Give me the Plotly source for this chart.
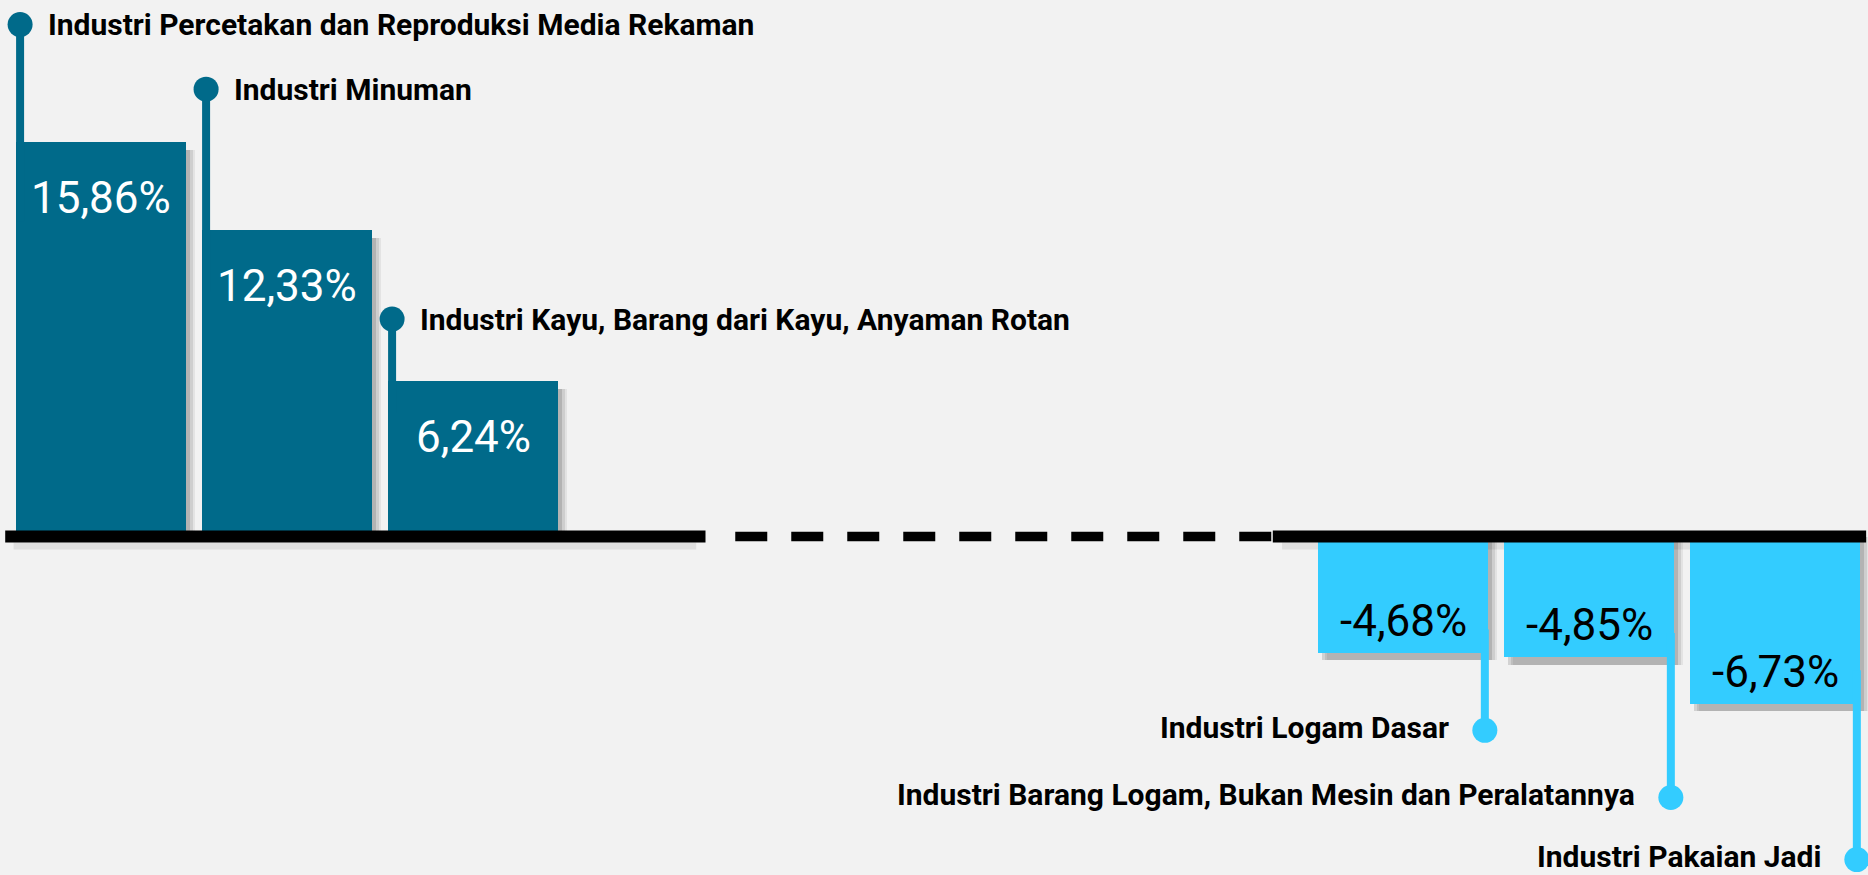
import plotly.graph_objects as go

# sector growth, positive sectors on the left, negative on the right
industries = [
    "Industri Percetakan dan Reproduksi Media Rekaman",
    "Industri Minuman",
    "Industri Kayu, Barang dari Kayu, Anyaman Rotan",
    "Industri Logam Dasar",
    "Industri Barang Logam, Bukan Mesin dan Peralatannya",
    "Industri Pakaian Jadi",
]
growth = [15.86, 12.33, 6.24, -4.68, -4.85, -6.73]
value_text = ["15,86%", "12,33%", "6,24%", "-4,68%", "-4,85%", "-6,73%"]
slots = [0, 1, 2, 7, 8, 9]
callout_y = [20.6, 18.0, 8.75, -7.8, -10.5, -13.0]

POS = "#006a8a"
NEG = "#33ccff"
BG = "#f2f2f2"
NARROW = "Liberation Sans Narrow, Arial Narrow, Roboto, sans-serif"
BAR_W = 0.914

colors = [POS if v > 0 else NEG for v in growth]
stem_x = [s - 0.435 if v > 0 else s + 0.44 for s, v in zip(slots, growth)]

fig = go.Figure()

# soft drop shadows
for shift, alpha in [(0.05, 0.06), (0.035, 0.09), (0.02, 0.13)]:
    fig.add_trace(go.Bar(
        x=slots, y=[v - 0.3 for v in growth],
        width=BAR_W, offset=-BAR_W / 2 + shift,
        marker=dict(color=f"rgba(0,0,0,{alpha})", line_width=0),
        hoverinfo="skip", showlegend=False,
    ))

# stems from bar to callout dot
for x, v, y, c in zip(stem_x, growth, callout_y, colors):
    fig.add_trace(go.Scatter(
        x=[x, x], y=[v * 0.8, y], mode="lines",
        line=dict(color=c, width=8), hoverinfo="skip", showlegend=False,
    ))

fig.add_trace(go.Bar(
    x=slots, y=growth, width=BAR_W,
    marker=dict(color=colors, line_width=0),
    hovertext=industries, hoverinfo="text+y", showlegend=False,
))

fig.add_trace(go.Scatter(
    x=stem_x, y=callout_y, mode="markers",
    marker=dict(color=colors, size=25, line_width=0),
    hoverinfo="skip", showlegend=False,
))

for x, s, v, name, txt, y in zip(stem_x, slots, growth, industries, value_text, callout_y):
    pos = v > 0
    fig.add_annotation(
        x=x, y=y, text=name, showarrow=False,
        xanchor="left" if pos else "right", xshift=26 if pos else -34,
        yshift=0 if pos else 3,
        font=dict(family=NARROW, size=30, color="black", weight=700),
    )
    fig.add_annotation(
        x=s, y=v, text=txt, showarrow=False, yanchor="middle",
        yshift=-56 if pos else 32,
        font=dict(family=NARROW, size=44, color="white" if pos else "black"),
    )

# baseline: solid - dashed - solid
for x0, x1, w, dash in [(-0.515, 3.25, 12, "solid"), (3.41, 6.3, 9.5, "32px,24px"),
                        (6.3, 9.49, 12, "solid")]:
    fig.add_shape(type="line", x0=x0, x1=x1, y0=0, y1=0, xref="x", yref="y",
                  layer="above", line=dict(color="black", width=w, dash=dash))
for x0, x1 in [(-0.47, 3.2), (6.35, 9.45)]:
    fig.add_shape(type="rect", x0=x0, x1=x1, yanchor=0, ysizemode="pixel", y0=-6, y1=-13,
                  xref="x", yref="y", layer="below", line_width=0,
                  fillcolor="rgba(0,0,0,0.08)")

fig.update_layout(
    width=1868, height=875, margin=dict(l=0, r=0, t=0, b=0),
    paper_bgcolor=BG, plot_bgcolor=BG, barmode="overlay", bargap=0,
    xaxis=dict(visible=False, range=[-0.543, 9.5]),
    yaxis=dict(visible=False, range=[-13.62, 21.59]),
    showlegend=False,
)

fig.write_html("out.html", config={"displayModeBar": False},
               post_script="document.body.style.margin='0';")
